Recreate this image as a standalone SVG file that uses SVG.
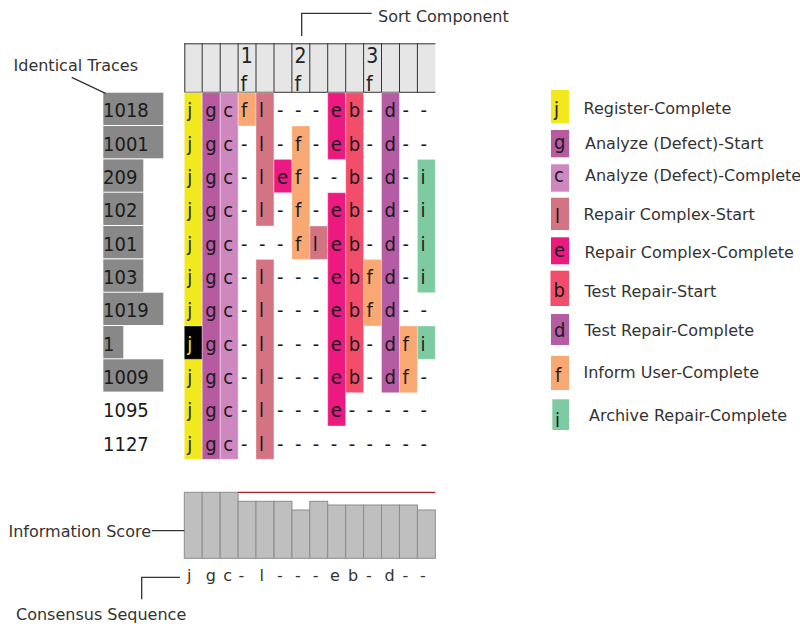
<svg xmlns="http://www.w3.org/2000/svg" width="800" height="626" viewBox="0 0 800 626">
  <style>
    .lbl{font-family:"DejaVu Sans",Verdana,sans-serif;font-size:16px;fill:#333}
    .cell{font-family:"DejaVu Sans Condensed","DejaVu Sans",sans-serif;font-size:20px;fill:#1a1a1a}
    .hdr{font-family:"DejaVu Sans Condensed","DejaVu Sans",sans-serif;font-size:21px;fill:#222}
    .cnt{fill:#888}
    .ev-j{fill:#F2E81E}
    .ev-g{fill:#B85AA0}
    .ev-c{fill:#CF87BF}
    .ev-l{fill:#D47483}
    .ev-e{fill:#EC1A80}
    .ev-b{fill:#F24E6C}
    .ev-d{fill:#B45CA4}
    .ev-f{fill:#F9A873}
    .ev-i{fill:#7ECBA1}
    .strip{stroke:#fff;stroke-opacity:0.35;stroke-width:1}
    .bar{fill:#BFBFBF;stroke:#8C8C8C;stroke-width:1}
    .lead{fill:none;stroke:#333;stroke-width:1.3}
    .grid{stroke:#333;stroke-width:1}
  </style>

  <!-- column header with sort components -->
  <g id="header">
    <rect x="184.3" y="43.3" width="251" height="49" fill="#E6E6E6"/>
    <path class="grid" d="M184.3 43.8H435.3M184.3 92.3H435.3M184.8 43.3V92.3M202.2 43.3V92.3M220.2 43.3V92.3M238.1 43.3V92.3M256 43.3V92.3M274 43.3V92.3M291.9 43.3V92.3M309.8 43.3V92.3M327.7 43.3V92.3M345.7 43.3V92.3M363.6 43.3V92.3M381.5 43.3V92.3M399.5 43.3V92.3M417.4 43.3V92.3"/>
    <text class="hdr" x="240.8" y="63.3">1</text>
    <text class="hdr" x="240.6" y="90.7">f</text>
    <text class="hdr" x="294.6" y="63.3">2</text>
    <text class="hdr" x="294.4" y="90.7">f</text>
    <text class="hdr" x="366.3" y="63.3">3</text>
    <text class="hdr" x="366.1" y="90.7">f</text>
  </g>

  <!-- trace counts -->
  <g id="counts">
    <rect class="cnt" x="103.3" y="92.7" width="60" height="32.3"/>
    <rect class="cnt" x="103.3" y="126" width="60" height="32.3"/>
    <rect class="cnt" x="103.3" y="159.4" width="40" height="32.3"/>
    <rect class="cnt" x="103.3" y="192.7" width="40" height="32.3"/>
    <rect class="cnt" x="103.3" y="226" width="40" height="32.3"/>
    <rect class="cnt" x="103.3" y="259.4" width="40" height="32.3"/>
    <rect class="cnt" x="103.3" y="292.7" width="60" height="32.3"/>
    <rect class="cnt" x="103.3" y="326" width="20" height="32.3"/>
    <rect class="cnt" x="103.3" y="359.3" width="60" height="32.3"/>
    <g class="cell">
      <text x="103" y="117.4">1018</text>
      <text x="103" y="150.7">1001</text>
      <text x="103" y="184.1">209</text>
      <text x="103" y="217.4">102</text>
      <text x="103" y="250.7">101</text>
      <text x="103" y="284.1">103</text>
      <text x="103" y="317.4">1019</text>
      <text x="103" y="350.7">1</text>
      <text x="103" y="384">1009</text>
      <text x="103" y="417.4">1095</text>
      <text x="103" y="450.7">1127</text>
    </g>
  </g>

  <!-- event strips, one column per activity slot -->
  <g id="strips" class="strip">
    <rect class="ev-j" x="184.3" y="92.7" width="17.93" height="366.6"/>
    <rect fill="#000" x="184.3" y="326" width="17.93" height="33.3"/>
    <rect class="ev-g" x="202.2" y="92.7" width="17.93" height="366.6"/>
    <rect class="ev-c" x="220.2" y="92.7" width="17.93" height="366.6"/>
    <rect class="ev-f" x="238.1" y="92.7" width="17.93" height="33.3"/>
    <rect class="ev-l" x="256" y="92.7" width="17.93" height="133.3"/>
    <rect class="ev-l" x="256" y="259.4" width="17.93" height="199.9"/>
    <rect class="ev-e" x="274" y="159.4" width="17.93" height="33.3"/>
    <rect class="ev-f" x="291.9" y="126" width="17.93" height="133.4"/>
    <rect class="ev-l" x="309.8" y="226" width="17.93" height="33.4"/>
    <rect class="ev-e" x="327.7" y="92.7" width="17.93" height="66.7"/>
    <rect class="ev-e" x="327.7" y="192.7" width="17.93" height="233.3"/>
    <rect class="ev-b" x="345.7" y="92.7" width="17.93" height="300"/>
    <rect class="ev-f" x="363.6" y="259.4" width="17.93" height="66.6"/>
    <rect class="ev-d" x="381.5" y="92.7" width="17.93" height="300"/>
    <rect class="ev-f" x="399.5" y="326" width="17.93" height="66.7"/>
    <rect class="ev-i" x="417.4" y="159.4" width="17.93" height="133.3"/>
    <rect class="ev-i" x="417.4" y="326" width="17.93" height="33.3"/>
  </g>

  <!-- trace rows -->
  <g id="traces" class="cell">
    <text id="trace-1018" x="187.3 205.2 223.2 241.1 259 277 294.9 312.8 330.7 348.7 366.6 384.5 402.5 420.4" y="117.4">jgcfl---eb-d--</text>
    <text id="trace-1001" x="187.3 205.2 223.2 241.1 259 277 294.9 312.8 330.7 348.7 366.6 384.5 402.5 420.4" y="150.7">jgc-l-f-eb-d--</text>
    <text id="trace-209" x="187.3 205.2 223.2 241.1 259 277 294.9 312.8 330.7 348.7 366.6 384.5 402.5 420.4" y="184.1">jgc-lef--b-d-i</text>
    <text id="trace-102" x="187.3 205.2 223.2 241.1 259 277 294.9 312.8 330.7 348.7 366.6 384.5 402.5 420.4" y="217.4">jgc-l-f-eb-d-i</text>
    <text id="trace-101" x="187.3 205.2 223.2 241.1 259 277 294.9 312.8 330.7 348.7 366.6 384.5 402.5 420.4" y="250.7">jgc---fleb-d-i</text>
    <text id="trace-103" x="187.3 205.2 223.2 241.1 259 277 294.9 312.8 330.7 348.7 366.6 384.5 402.5 420.4" y="284.1">jgc-l---ebfd-i</text>
    <text id="trace-1019" x="187.3 205.2 223.2 241.1 259 277 294.9 312.8 330.7 348.7 366.6 384.5 402.5 420.4" y="317.4">jgc-l---ebfd--</text>
    <text id="trace-1" y="350.7"><tspan x="187.3" fill="#F2E81E">j</tspan><tspan x="205.2 223.2 241.1 259 277 294.9 312.8 330.7 348.7 366.6 384.5 402.5 420.4">gc-l---eb-dfi</tspan></text>
    <text id="trace-1009" x="187.3 205.2 223.2 241.1 259 277 294.9 312.8 330.7 348.7 366.6 384.5 402.5 420.4" y="384">jgc-l---eb-df-</text>
    <text id="trace-1095" x="187.3 205.2 223.2 241.1 259 277 294.9 312.8 330.7 348.7 366.6 384.5 402.5 420.4" y="417.4">jgc-l---e-----</text>
    <text id="trace-1127" x="187.3 205.2 223.2 241.1 259 277 294.9 312.8 330.7 348.7 366.6 384.5 402.5 420.4" y="450.7">jgc-l---------</text>
  </g>

  <!-- information score per column -->
  <g id="score">
    <rect class="bar" x="184.3" y="492.3" width="17.93" height="66"/>
    <rect class="bar" x="202.2" y="492.3" width="17.93" height="66"/>
    <rect class="bar" x="220.2" y="492.3" width="17.93" height="66"/>
    <rect class="bar" x="238.1" y="501.3" width="17.93" height="57"/>
    <rect class="bar" x="256" y="501.3" width="17.93" height="57"/>
    <rect class="bar" x="274" y="501.3" width="17.93" height="57"/>
    <rect class="bar" x="291.9" y="510" width="17.93" height="48.3"/>
    <rect class="bar" x="309.8" y="501.3" width="17.93" height="57"/>
    <rect class="bar" x="327.7" y="505" width="17.93" height="53.3"/>
    <rect class="bar" x="345.7" y="505" width="17.93" height="53.3"/>
    <rect class="bar" x="363.6" y="505" width="17.93" height="53.3"/>
    <rect class="bar" x="381.5" y="505" width="17.93" height="53.3"/>
    <rect class="bar" x="399.5" y="505" width="17.93" height="53.3"/>
    <rect class="bar" x="417.4" y="510" width="17.93" height="48.3"/>
    <line x1="238.1" y1="492.3" x2="435.3" y2="492.3" stroke="#B0202A" stroke-width="1.3"/>
  </g>

  <!-- consensus sequence -->
  <g id="consensus">
    <text class="lbl" x="187 205.7 223.2 238.6 259.5 277 294.9 312.8 330 348 366 384.5 402.5 420" y="581">jgc-l---eb-d--</text>
  </g>

  <!-- legend -->
  <g id="legend">
    <g id="legend-j"><rect class="ev-j" x="551" y="90" width="18" height="33.3"/><text class="cell" x="554" y="116">j</text><text class="lbl" x="583.5" y="113.7">Register-Complete</text></g>
    <g id="legend-g"><rect class="ev-g" x="551" y="130" width="18" height="27.3"/><text class="cell" x="554" y="148.5">g</text><text class="lbl" x="585" y="149">Analyze (Defect)-Start</text></g>
    <g id="legend-c"><rect class="ev-c" x="551" y="164.3" width="18" height="27.4"/><text class="cell" x="554" y="181.7">c</text><text class="lbl" x="585" y="181">Analyze (Defect)-Complete</text></g>
    <g id="legend-l"><rect class="ev-l" x="551" y="197.7" width="18" height="32.3"/><text class="cell" x="555" y="223">l</text><text class="lbl" x="583.5" y="220">Repair Complex-Start</text></g>
    <g id="legend-e"><rect class="ev-e" x="551" y="237.3" width="18" height="27"/><text class="cell" x="554" y="257.3">e</text><text class="lbl" x="584.5" y="257.7">Repair Complex-Complete</text></g>
    <g id="legend-b"><rect class="ev-b" x="550.5" y="270.7" width="18.5" height="35.3"/><text class="cell" x="553.5" y="296.7">b</text><text class="lbl" x="584.5" y="296.7">Test Repair-Start</text></g>
    <g id="legend-d"><rect class="ev-d" x="551" y="314" width="18" height="31"/><text class="cell" x="554" y="336.7">d</text><text class="lbl" x="584.5" y="336">Test Repair-Complete</text></g>
    <g id="legend-f"><rect class="ev-f" x="551" y="356" width="18" height="34"/><text class="cell" x="555" y="381.5">f</text><text class="lbl" x="583.5" y="378.3">Inform User-Complete</text></g>
    <g id="legend-i"><rect class="ev-i" x="552.3" y="399.3" width="16.7" height="30.7"/><text class="cell" x="555" y="426.5">i</text><text class="lbl" x="589" y="420.7">Archive Repair-Complete</text></g>
  </g>

  <!-- callout labels -->
  <g id="labels">
    <text class="lbl" x="378" y="21.7">Sort Component</text>
    <text class="lbl" x="13.5" y="71">Identical Traces</text>
    <text class="lbl" x="8.5" y="536.7">Information Score</text>
    <text class="lbl" x="16" y="620">Consensus Sequence</text>
  </g>

  <!-- leader lines -->
  <g id="connectors" class="lead">
    <path d="M301.7 36V13.3H371.7"/>
    <path d="M71.7 77.3L105.5 93.3"/>
    <path d="M151.7 530.7H184.3"/>
    <path d="M141.7 599.3V577.3H180"/>
  </g>
</svg>
